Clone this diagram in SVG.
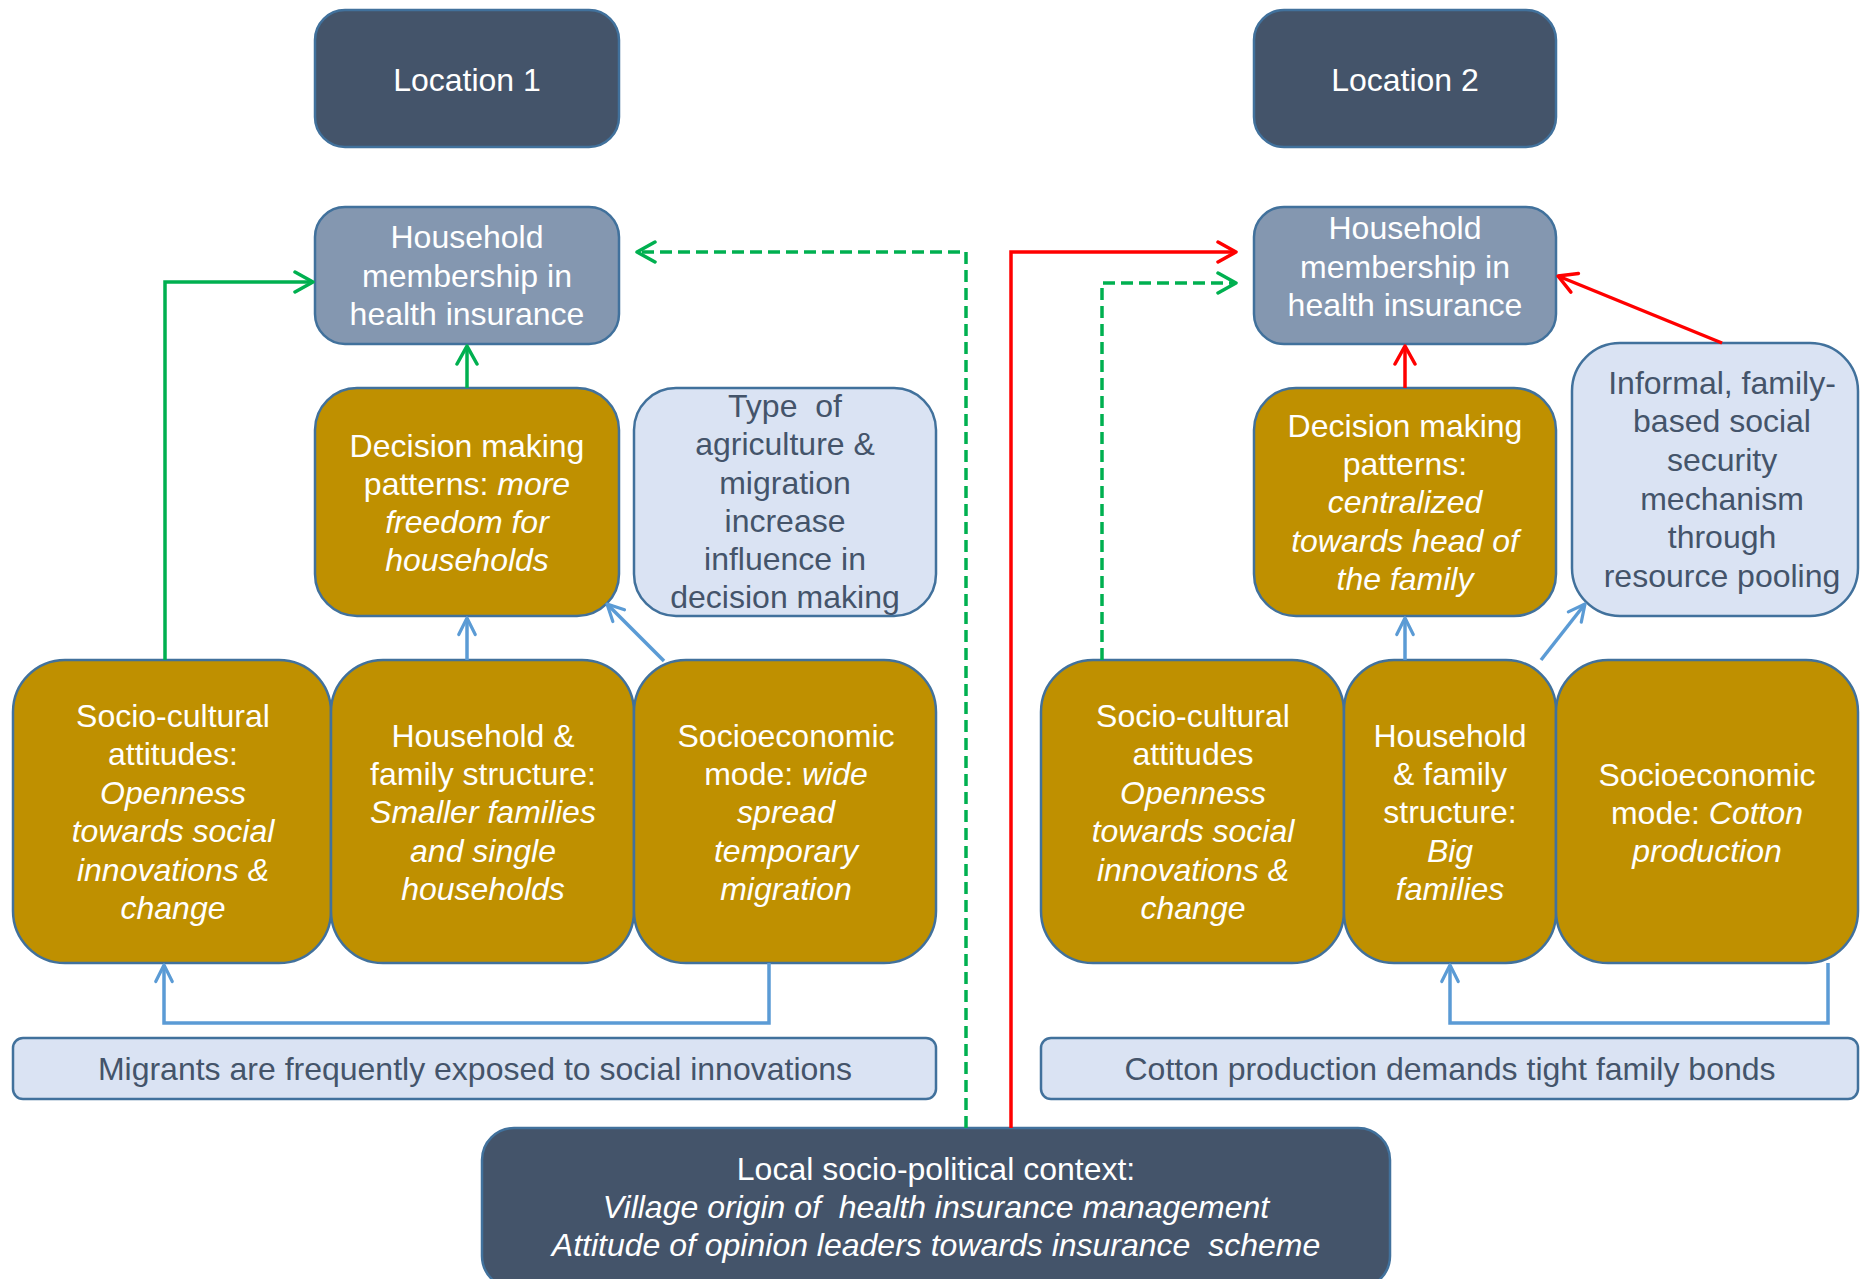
<svg xmlns="http://www.w3.org/2000/svg" width="1860" height="1279" viewBox="0 0 1860 1279">
<style>
.box{stroke:#41719C;stroke-width:2.5}
.dark{fill:#44546A}
.hh{fill:#8497B0}
.gold{fill:#BF9000}
.light{fill:#DAE3F3}
text{font-family:"Liberation Sans",Arial,sans-serif;font-size:32px;text-anchor:middle}
.w{fill:#FFFFFF}
.d{fill:#44546A}
.i{font-style:italic}
.g{stroke:#00B050;stroke-width:3.5;fill:none}
.gd{stroke:#00B050;stroke-width:3.5;fill:none;stroke-dasharray:12 6}
.r{stroke:#FF0000;stroke-width:3.5;fill:none}
.b{stroke:#5B9BD5;stroke-width:3.5;fill:none}
</style>
<defs>
<marker id="ag" viewBox="0 0 24 24" refX="21" refY="12" markerWidth="24" markerHeight="24" markerUnits="userSpaceOnUse" orient="auto"><path d="M3,2 L21,12 L3,22" fill="none" stroke="#00B050" stroke-width="3.5" stroke-linecap="round" stroke-linejoin="round"/></marker>
<marker id="ar" viewBox="0 0 24 24" refX="21" refY="12" markerWidth="24" markerHeight="24" markerUnits="userSpaceOnUse" orient="auto"><path d="M3,2 L21,12 L3,22" fill="none" stroke="#FF0000" stroke-width="3.5" stroke-linecap="round" stroke-linejoin="round"/></marker>
<marker id="ab" viewBox="0 0 24 24" refX="21" refY="12" markerWidth="22" markerHeight="22" markerUnits="userSpaceOnUse" orient="auto"><path d="M3,3 L21,12 L3,21" fill="none" stroke="#5B9BD5" stroke-width="3.5" stroke-linecap="round" stroke-linejoin="round"/></marker>
</defs>
<rect width="1860" height="1279" fill="#FFFFFF"/>

<g id="location1"><rect class="box dark" x="315" y="10" width="304" height="137" rx="30"/><text class="w" x="467" y="91">Location 1</text></g>
<g id="location2"><rect class="box dark" x="1254" y="10" width="302" height="137" rx="30"/><text class="w" x="1405" y="91">Location 2</text></g>

<g id="hh-membership-1"><rect class="box hh" x="315" y="207" width="304" height="137" rx="30"/>
<text class="w" x="467" y="248">Household</text><text class="w" x="467" y="287">membership in</text><text class="w" x="467" y="325">health insurance</text></g>
<g id="hh-membership-2"><rect class="box hh" x="1254" y="207" width="302" height="137" rx="30"/>
<text class="w" x="1405" y="239">Household</text><text class="w" x="1405" y="278">membership in</text><text class="w" x="1405" y="316">health insurance</text></g>

<g id="decision-1"><rect class="box gold" x="315" y="388" width="304" height="228" rx="42"/>
<text class="w" x="467" y="457">Decision making</text>
<text class="w" x="467" y="495">patterns: <tspan class="i">more</tspan></text>
<text class="w i" x="467" y="533">freedom for</text>
<text class="w i" x="467" y="571">households</text></g>

<g id="type-agriculture"><rect class="box light" x="634" y="388" width="302" height="228" rx="42"/>
<text class="d" x="785" y="417" xml:space="preserve">Type  of</text>
<text class="d" x="785" y="455">agriculture &amp;</text>
<text class="d" x="785" y="494">migration</text>
<text class="d" x="785" y="532">increase</text>
<text class="d" x="785" y="570">influence in</text>
<text class="d" x="785" y="608">decision making</text></g>

<g id="decision-2"><rect class="box gold" x="1254" y="388" width="302" height="228" rx="42"/>
<text class="w" x="1405" y="437">Decision making</text>
<text class="w" x="1405" y="475">patterns:</text>
<text class="w i" x="1405" y="513">centralized</text>
<text class="w i" x="1405" y="552">towards head of</text>
<text class="w i" x="1405" y="590">the family</text></g>

<g id="informal"><rect class="box light" x="1572" y="343" width="286" height="273" rx="48"/>
<text class="d" x="1722" y="394">Informal, family-</text>
<text class="d" x="1722" y="432">based social</text>
<text class="d" x="1722" y="471">security</text>
<text class="d" x="1722" y="510">mechanism</text>
<text class="d" x="1722" y="548">through</text>
<text class="d" x="1722" y="587">resource pooling</text></g>

<g id="sociocultural-1"><rect class="box gold" x="13" y="660" width="318" height="303" rx="52"/>
<text class="w" x="173" y="727">Socio-cultural</text>
<text class="w" x="173" y="765">attitudes:</text>
<text class="w i" x="173" y="804">Openness</text>
<text class="w i" x="173" y="842">towards social</text>
<text class="w i" x="173" y="881">innovations &amp;</text>
<text class="w i" x="173" y="919">change</text></g>

<g id="family-structure-1"><rect class="box gold" x="331" y="660" width="303" height="303" rx="52"/>
<text class="w" x="483" y="747">Household &amp;</text>
<text class="w" x="483" y="785">family structure:</text>
<text class="w i" x="483" y="823">Smaller families</text>
<text class="w i" x="483" y="862">and single</text>
<text class="w i" x="483" y="900">households</text></g>

<g id="socioeconomic-1"><rect class="box gold" x="634" y="660" width="302" height="303" rx="52"/>
<text class="w" x="786" y="747">Socioeconomic</text>
<text class="w" x="786" y="785">mode: <tspan class="i">wide</tspan></text>
<text class="w i" x="786" y="823">spread</text>
<text class="w i" x="786" y="862">temporary</text>
<text class="w i" x="786" y="900">migration</text></g>

<g id="sociocultural-2"><rect class="box gold" x="1041" y="660" width="303" height="303" rx="52"/>
<text class="w" x="1193" y="727">Socio-cultural</text>
<text class="w" x="1193" y="765">attitudes</text>
<text class="w i" x="1193" y="804">Openness</text>
<text class="w i" x="1193" y="842">towards social</text>
<text class="w i" x="1193" y="881">innovations &amp;</text>
<text class="w i" x="1193" y="919">change</text></g>

<g id="family-structure-2"><rect class="box gold" x="1344" y="660" width="212" height="303" rx="50"/>
<text class="w" x="1450" y="747">Household</text>
<text class="w" x="1450" y="785">&amp; family</text>
<text class="w" x="1450" y="823">structure:</text>
<text class="w i" x="1450" y="862">Big</text>
<text class="w i" x="1450" y="900">families</text></g>

<g id="socioeconomic-2"><rect class="box gold" x="1556" y="660" width="302" height="303" rx="52"/>
<text class="w" x="1707" y="786">Socioeconomic</text>
<text class="w" x="1707" y="824">mode: <tspan class="i">Cotton</tspan></text>
<text class="w i" x="1707" y="862">production</text></g>

<g id="migrants"><rect class="box light" x="13" y="1038" width="923" height="61" rx="10"/>
<text class="d" x="475" y="1080">Migrants are frequently exposed to social innovations</text></g>
<g id="cotton"><rect class="box light" x="1041" y="1038" width="817" height="61" rx="10"/>
<text class="d" x="1450" y="1080">Cotton production demands tight family bonds</text></g>

<g id="local-context"><rect class="box dark" x="482" y="1128" width="908" height="160" rx="32"/>
<text class="w" x="936" y="1180">Local socio-political context:</text>
<text class="w i" x="936" y="1218" xml:space="preserve">Village origin of  health insurance management</text>
<text class="w i" x="936" y="1256" xml:space="preserve">Attitude of opinion leaders towards insurance  scheme</text></g>

<g id="connectors">
<path class="g" d="M165,660 L165,282 L313,282" marker-end="url(#ag)"/>
<path class="g" d="M467,388 L467,346" marker-end="url(#ag)"/>
<path class="gd" d="M966,1128 L966,252 L637,252" marker-end="url(#ag)"/>
<path class="gd" d="M1102,660 L1102,283 L1236,283" marker-end="url(#ag)"/>
<path class="r" d="M1011,1128 L1011,252 L1236,252" marker-end="url(#ar)"/>
<path class="r" d="M1405,388 L1405,346" marker-end="url(#ar)"/>
<path class="r" d="M1722,343 L1558,276" marker-end="url(#ar)"/>
<path class="b" d="M467,660 L467,618" marker-end="url(#ab)"/>
<path class="b" d="M664,661 L607,604" marker-end="url(#ab)"/>
<path class="b" d="M1405,660 L1405,618" marker-end="url(#ab)"/>
<path class="b" d="M1541,660 L1585,604" marker-end="url(#ab)"/>
<path class="b" d="M769,963 L769,1023 L164,1023 L164,965" marker-end="url(#ab)"/>
<path class="b" d="M1828,963 L1828,1023 L1450,1023 L1450,965" marker-end="url(#ab)"/>
</g>
</svg>
